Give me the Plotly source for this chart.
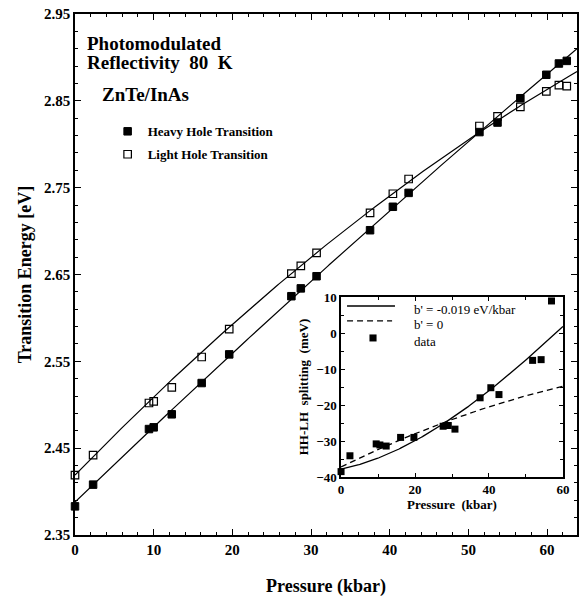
import numpy as np
import plotly.graph_objects as go

# ---------------- data ----------------
pressure = [0, 2.3, 9.4, 10.0, 12.3, 16.1, 19.6, 27.5, 28.7, 30.7, 37.5, 40.4,
            42.4, 51.4, 53.7, 56.6, 59.9, 61.5, 62.5]
heavy_hole = [2.383, 2.408, 2.472, 2.474, 2.489, 2.525, 2.558, 2.625, 2.634, 2.648,
              2.701, 2.728, 2.744, 2.814, 2.825, 2.853, 2.880, 2.893, 2.896]
light_hole = [2.419, 2.442, 2.502, 2.504, 2.520, 2.555, 2.587, 2.651, 2.660, 2.675,
              2.721, 2.743, 2.760, 2.821, 2.832, 2.843, 2.861, 2.868, 2.867]

# fitted curves (polynomial coefficients, lowest order first)
hh_fit = [2.388, 0.008735, -8.67e-6]
lh_fit = [2.419, 0.009319, -3.19e-5]

# inset: HH-LH splitting (meV)
inset_pressure = [0, 2.4, 9.5, 10.5, 12.2, 16.1, 19.7, 27.6, 29.0, 30.8, 37.6,
                  40.5, 42.7, 51.8, 54.1, 56.9]
inset_split = [-38.5, -34.1, -30.8, -31.1, -31.4, -29.0, -29.0, -25.9, -25.7,
               -26.7, -18.0, -15.2, -17.1, -7.6, -7.4, 8.9]
model_b019 = [-37.8, 0.2089, 0.010078, -4.257e-5]   # b' = -0.019 eV/kbar
model_b0 = [-37.2, 0.5058, -0.002207]                # b' = 0

x_ticks_main = [0, 10, 20, 30, 40, 50, 60]
y_ticks_main = [2.35, 2.45, 2.55, 2.65, 2.75, 2.85, 2.95]
x_ticks_inset = [0, 20, 40, 60]
y_ticks_inset = [-40, -30, -20, -10, 0, 10]

SERIF = "Liberation Serif"
DASH = "6px,4px"


def poly(coefs, x):
    x = np.asarray(x, dtype=float)
    return sum(c * x ** i for i, c in enumerate(coefs))


fig = go.Figure()

pmain = np.linspace(0, 63.8, 200)
fig.add_trace(go.Scatter(x=pmain, y=poly(hh_fit, pmain), mode="lines",
                         line=dict(color="black", width=1.2), showlegend=False,
                         hoverinfo="skip"))
fig.add_trace(go.Scatter(x=pmain, y=poly(lh_fit, pmain), mode="lines",
                         line=dict(color="black", width=1.2), showlegend=False,
                         hoverinfo="skip"))
fig.add_trace(go.Scatter(x=pressure, y=heavy_hole, mode="markers",
                         name="Heavy Hole Transition", legendgroup="hh",
                         marker=dict(symbol="square", size=7.5, color="black",
                                     line=dict(color="black", width=1)),
                         cliponaxis=False))
fig.add_trace(go.Scatter(x=pressure, y=light_hole, mode="markers",
                         name="Light Hole Transition", legendgroup="lh",
                         marker=dict(symbol="square-open", size=7.5, color="black",
                                     line=dict(color="black", width=1.2)),
                         cliponaxis=False))

# inset
pin = np.linspace(0, 60, 200)
fig.add_trace(go.Scatter(x=pin, y=poly(model_b019, pin), mode="lines",
                         line=dict(color="black", width=1.3), showlegend=False,
                         xaxis="x2", yaxis="y2", hoverinfo="skip"))
fig.add_trace(go.Scatter(x=pin, y=poly(model_b0, pin), mode="lines",
                         line=dict(color="black", width=1.3, dash=DASH),
                         showlegend=False, xaxis="x2", yaxis="y2", hoverinfo="skip"))
fig.add_trace(go.Scatter(x=inset_pressure, y=inset_split, mode="markers",
                         marker=dict(symbol="square", size=7, color="black"),
                         showlegend=False, xaxis="x2", yaxis="y2", cliponaxis=False))

axis_common = dict(showline=True, linecolor="black", linewidth=1.5, mirror="ticks",
                   ticks="inside", tickcolor="black", showgrid=False, zeroline=False,
                   automargin=False)

fig.update_layout(
    width=584, height=601,
    margin=dict(l=75, r=7, t=14, b=66),
    paper_bgcolor="white", plot_bgcolor="white",
    font=dict(family=SERIF, color="black", size=15),
    xaxis=dict(**axis_common, range=[0, 63.8], tickvals=x_ticks_main, ticklen=6,
               tickwidth=1.2,
               minor=dict(dtick=2, tick0=0, ticks="inside", ticklen=3,
                          tickcolor="black", tickwidth=1),
               tickfont=dict(family=SERIF, size=15, weight="bold"),
               title=dict(text="Pressure (kbar)", standoff=23,
                          font=dict(family=SERIF, size=18, weight="bold"))),
    yaxis=dict(**axis_common, range=[2.35, 2.95], tickvals=y_ticks_main, ticklen=6,
               tickwidth=1.2, tickformat=".2f",
               minor=dict(dtick=0.02, tick0=2.35, ticks="inside", ticklen=3,
                          tickcolor="black", tickwidth=1),
               tickfont=dict(family=SERIF, size=15, weight="bold"),
               title=dict(text="Transition Energy [eV]", standoff=8,
                          font=dict(family=SERIF, size=18, weight="bold"))),
    xaxis2=dict(**axis_common, domain=[0.530, 0.972], anchor="y2", range=[0, 60],
                tickvals=x_ticks_inset, ticklen=4, tickwidth=1,
                minor=dict(dtick=10, tick0=0, ticks="inside", ticklen=3,
                           tickcolor="black"),
                tickfont=dict(family=SERIF, size=13, weight="bold"),
                title=dict(text="Pressure  (kbar)", standoff=2,
                           font=dict(family=SERIF, size=13, weight="bold"))),
    yaxis2=dict(**axis_common, domain=[0.1113, 0.4568], anchor="x2", range=[-40, 10],
                tickvals=y_ticks_inset, ticklen=4, tickwidth=1,
                minor=dict(dtick=5, tick0=0, ticks="inside", ticklen=3,
                           tickcolor="black"),
                tickfont=dict(family=SERIF, size=13, weight="bold"),
                title=dict(text="HH-LH  splitting  (meV)", standoff=5,
                           font=dict(family=SERIF, size=13, weight="bold"))),
    legend=dict(x=0.065, y=0.8035, xanchor="left", yanchor="top",
                bgcolor="rgba(0,0,0,0)", tracegroupgap=3,
                font=dict(family=SERIF, size=13, weight="bold")),
    showlegend=True,
)

# titles inside main plot
for txt, xp, yp in [("Photomodulated", 85, 43),
                     ("Reflectivity\u00a0\u00a080\u00a0\u00a0K", 85, 63),
                     ("ZnTe/InAs", 100, 95)]:
    fig.add_annotation(text=txt, xref="paper", yref="paper",
                       x=(xp - 75) / 502, y=(535 - yp) / 521,
                       xanchor="left", yanchor="middle", showarrow=False,
                       font=dict(family=SERIF, size=19, weight="bold"))

# inset legend (drawn manually)
fig.add_shape(type="line", xref="x2 domain", yref="y2 domain",
              x0=0.027, x1=0.243, y0=0.95, y1=0.95,
              line=dict(color="black", width=1.3))
fig.add_shape(type="line", xref="x2 domain", yref="y2 domain",
              x0=0.027, x1=0.23, y0=0.867, y1=0.867,
              line=dict(color="black", width=1.3, dash=DASH))
fig.add_shape(type="rect", xref="x2 domain", yref="y2 domain",
              x0=0.128, x1=0.160, y0=0.753, y1=0.792,
              fillcolor="black", line=dict(color="black", width=0))
for txt, yd in [("b' = -0.019 eV/kbar", 0.928), ("b' = 0", 0.85), ("data", 0.755)]:
    fig.add_annotation(text=txt, xref="x2 domain", yref="y2 domain",
                       x=0.32, y=yd, xanchor="left", yanchor="middle",
                       showarrow=False, font=dict(family=SERIF, size=13))

# remove the browser's default body margin so the figure sits at the page origin
fig.write_html("out.html", config={"displayModeBar": False},
               post_script="document.body.style.margin='0';")
